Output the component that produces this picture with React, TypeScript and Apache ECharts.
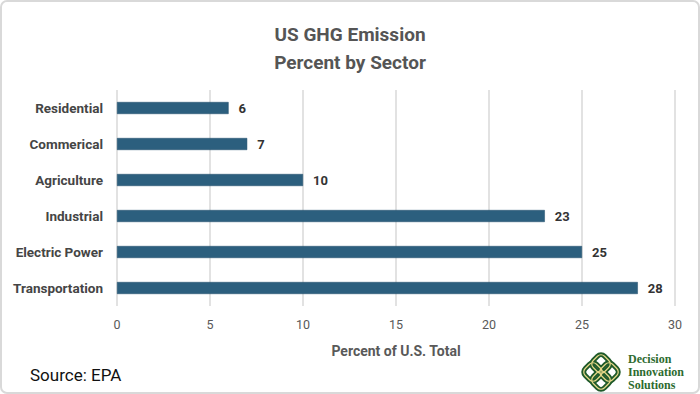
import React, { useEffect, useRef } from "react";
import * as echarts from "echarts";

const categories = ["Residential", "Commerical", "Agriculture", "Industrial", "Electric Power", "Transportation"];
const values = [6, 7, 10, 23, 25, 28];
const titleLines = ["US GHG Emission", "Percent by Sector"];
const axisTitle = "Percent of U.S. Total";
const sourceText = "Source: EPA";
const logoLines = ["Decision", "Innovation", "Solutions"];

export default function App() {
  const ref = useRef<HTMLDivElement>(null);
  useEffect(() => {
    document.body.style.margin = "0";
    const chart = echarts.init(ref.current!, null, { renderer: "svg" });
    const green = "#1f5a2a";
    const yellow = "#e8d98a";
    const loop = (x: number, y: number) => ({
      type: "rect",
      x, y,
      rotation: Math.PI / 4,
      shape: { x: -8, y: -8, width: 16, height: 16, r: 5 },
      style: { fill: "none", stroke: green, lineWidth: 5 },
    });
    const loopInner = (x: number, y: number) => ({
      type: "rect",
      x, y,
      rotation: Math.PI / 4,
      shape: { x: -8, y: -8, width: 16, height: 16, r: 5 },
      style: { fill: "none", stroke: yellow, lineWidth: 1.2 },
    });
    chart.setOption({
      animation: false,
      backgroundColor: "#ffffff",
      title: {
        text: titleLines.join("\n"),
        left: "center",
        top: 15,
        textStyle: {
          fontFamily: "Roboto, sans-serif",
          fontWeight: "bold",
          fontSize: 19,
          lineHeight: 28,
          color: "#555555",
        },
      },
      grid: { left: 117, right: 25, top: 90, bottom: 88, containLabel: false },
      xAxis: {
        type: "value",
        min: 0,
        max: 30,
        interval: 5,
        name: axisTitle,
        nameLocation: "middle",
        nameGap: 38,
        nameTextStyle: { fontFamily: "Roboto, sans-serif", fontWeight: "bold", fontSize: 14, color: "#595959" },
        axisLine: { show: false },
        axisTick: { show: false },
        axisLabel: { margin: 12, fontFamily: "Roboto, sans-serif", fontSize: 12.5, color: "#595959" },
        splitLine: { show: true, lineStyle: { color: "#d9d9d9", width: 1.5 } },
      },
      yAxis: {
        type: "category",
        data: categories,
        inverse: true,
        axisLine: { show: false },
        axisTick: { show: false },
        axisLabel: { margin: 14, fontFamily: "Roboto, sans-serif", fontWeight: "bold", fontSize: 13.5, color: "#454545" },
      },
      series: [
        {
          type: "bar",
          data: values,
          barWidth: 12,
          itemStyle: { color: "#2c5f7e", borderColor: "#1f4d6a", borderWidth: 0.5 },
          label: {
            show: true,
            position: "right",
            distance: 10,
            fontFamily: "Roboto, sans-serif",
            fontWeight: "bold",
            fontSize: 13,
            color: "#333333",
          },
        },
      ],
      graphic: [
        {
          type: "rect",
          shape: { x: 1, y: 1, width: 698, height: 392, r: 6 },
          style: { fill: "none", stroke: "#d9d9d9", lineWidth: 2 },
          silent: true,
        },
        {
          type: "text",
          left: 30,
          top: 366,
          style: { text: sourceText, fontFamily: "Roboto, sans-serif", fontSize: 17, fill: "#111111" },
        },
        loop(601, 364),
        loop(601, 380),
        loop(593, 372),
        loop(609, 372),
        loopInner(601, 364),
        loopInner(601, 380),
        loopInner(593, 372),
        loopInner(609, 372),
        ...logoLines.map((t, i) => ({
          type: "text",
          left: 628,
          top: 353 + i * 13,
          style: { text: t, fontFamily: "'Liberation Serif', serif", fontWeight: "bold", fontSize: 12, fill: "#2d6b30" },
        })),
      ],
    });
    return () => chart.dispose();
  }, []);
  return <div ref={ref} style={{ width: 700, height: 394 }} />;
}
